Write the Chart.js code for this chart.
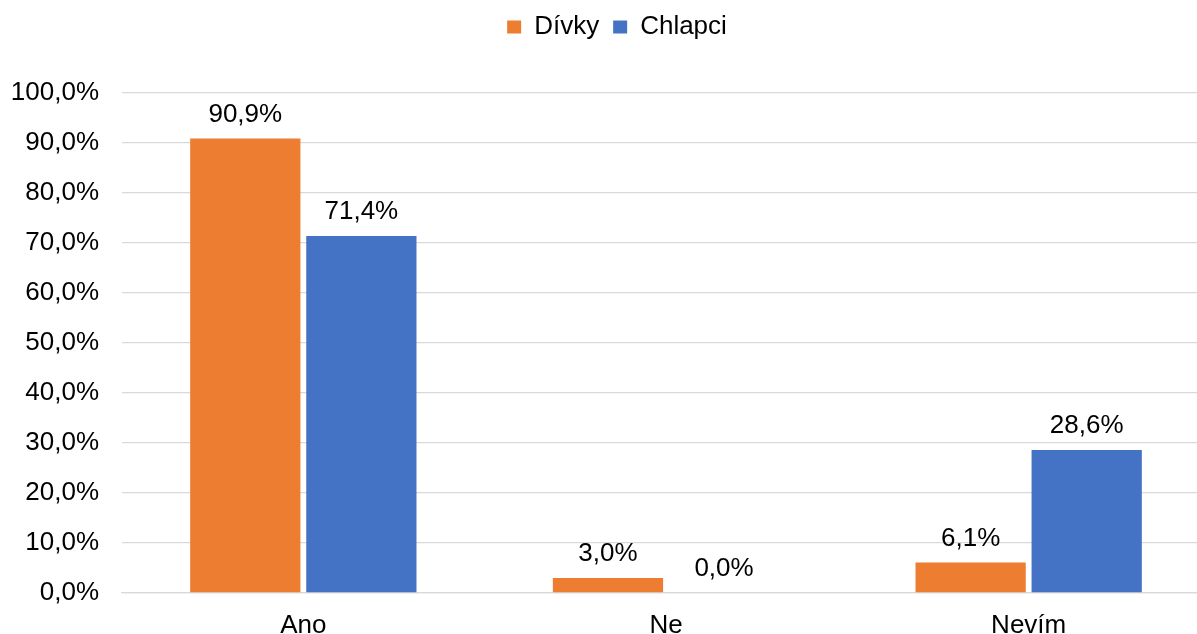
<!DOCTYPE html>
<html>
<head>
<meta charset="utf-8">
<script src="https://cdn.jsdelivr.net/npm/chart.js@4/dist/chart.umd.min.js"></script>
<style>
  html, body { margin: 0; padding: 0; background: #fff; overflow: hidden; }
  canvas { display: block; }
</style>
</head>
<body>
<canvas id="myChart" width="1210" height="634"></canvas>
<script>
const categories = ['Ano', 'Ne', 'Nevím'];
const seriesNames = ['Dívky', 'Chlapci'];
const divky = [90.9, 3.0, 6.1];
const chlapci = [71.4, 0.0, 28.6];

const FONT = '"Liberation Sans", Arial, sans-serif';
const fmt = v => v.toFixed(1).replace('.', ',') + '%';

// popisky hodnot nad sloupci
const valueLabels = {
    id: 'valueLabels',
    afterDatasetsDraw(chart) {
        const ctx = chart.ctx;
        ctx.save();
        ctx.font = '26px ' + FONT;
        ctx.fillStyle = '#000';
        ctx.textAlign = 'center';
        ctx.textBaseline = 'alphabetic';
        chart.data.datasets.forEach((ds, i) => {
            chart.getDatasetMeta(i).data.forEach((bar, j) => {
                ctx.fillText(fmt(ds.data[j]), bar.x, bar.y - 17);
            });
        });
        ctx.restore();
    }
};

// mezera pod legendou + posun legendy doprava
const legendSpace = {
    id: 'legendSpace',
    beforeInit(chart) {
        const origFit = chart.legend.fit;
        chart.legend.fit = function () {
            origFit.bind(chart.legend)();
            this.height = 93;
        };
    },
    afterLayout(chart) {
        chart.legend.left += 12;
        chart.legend.right += 12;
    }
};

const ctx = document.getElementById('myChart').getContext('2d');
const myChart = new Chart(ctx, {
    type: 'bar',
    data: {
        labels: categories,
        datasets: [{
            label: seriesNames[0],
            data: divky,
            backgroundColor: '#ED7D31'
        }, {
            label: seriesNames[1],
            data: chlapci,
            backgroundColor: '#4472C4'
        }]
    },
    options: {
        responsive: false,
        animation: false,
        layout: { padding: 0 },
        categoryPercentage: 0.64,
        barPercentage: 0.95,
        plugins: {
            legend: {
                position: 'top',
                labels: {
                    boxWidth: 14,
                    boxHeight: 13,
                    padding: 14,
                    color: '#000',
                    font: { size: 26, family: FONT }
                }
            },
            tooltip: { enabled: false }
        },
        scales: {
            y: {
                min: 0,
                max: 100,
                ticks: {
                    stepSize: 10,
                    padding: 23,
                    color: '#000',
                    font: { size: 26, family: FONT },
                    callback: v => fmt(v)
                },
                grid: { color: '#d9d9d9', lineWidth: 1.3, drawTicks: false },
                border: { display: false },
                afterFit: s => { s.width = 122; }
            },
            x: {
                ticks: {
                    padding: 17,
                    color: '#000',
                    font: { size: 26, family: FONT }
                },
                grid: { display: false, drawTicks: false },
                border: { color: '#d9d9d9', width: 1.3 },
                afterFit: s => { s.height = 41; }
            }
        }
    },
    plugins: [valueLabels, legendSpace]
});
</script>
</body>
</html>
